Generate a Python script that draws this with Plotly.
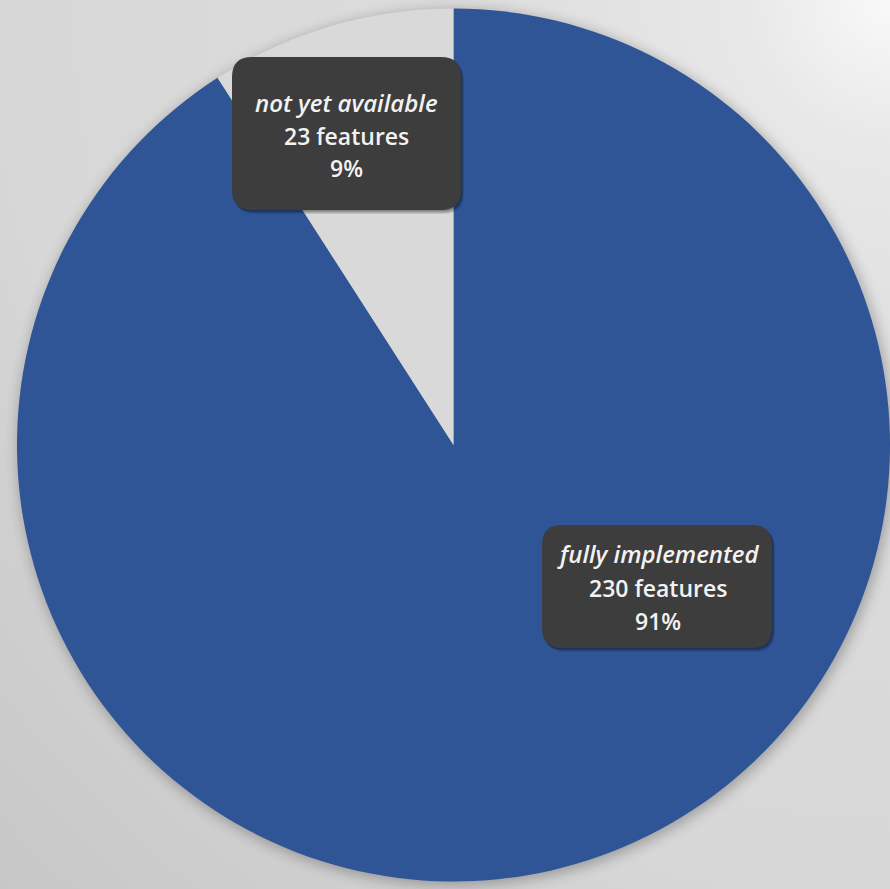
import base64
import plotly.graph_objects as go

# ---- data ----
categories = ["fully implemented", "not yet available"]
counts = [230, 23]
unit_label = "features"
slice_colors = ["#2F5597", "#D9D9D9"]

W, H = 890, 889
total = sum(counts)
percents = [round(100 * c / total) for c in counts]

# pie geometry (pixels)
dom_x = [17 / W, 1.0]
dom_y = [(H - 881.5) / H, (H - 8.5) / H]
cx = (dom_x[0] + dom_x[1]) / 2 * W
cy = H - (dom_y[0] + dom_y[1]) / 2 * H
rad = min((dom_x[1] - dom_x[0]) * W, (dom_y[1] - dom_y[0]) * H) / 2

# background: radial gradient from top-right + soft pie shadow
svg = f'''<svg xmlns="http://www.w3.org/2000/svg" width="{W}" height="{H}" viewBox="0 0 {W} {H}">
<defs>
<radialGradient id="g" gradientUnits="userSpaceOnUse" cx="{W}" cy="0" r="1780">
<stop offset="0" stop-color="#f9f9f9"/>
<stop offset="0.08" stop-color="#e8e8e8"/>
<stop offset="0.25" stop-color="#dcdcdc"/>
<stop offset="0.5" stop-color="#d7d7d7"/>
<stop offset="0.57" stop-color="#d0d0d0"/>
<stop offset="0.72" stop-color="#c6c6c6"/>
</radialGradient>
<filter id="b" x="-20%" y="-20%" width="140%" height="140%"><feGaussianBlur stdDeviation="7"/></filter>
</defs>
<rect x="0" y="0" width="{W}" height="{H}" fill="url(#g)"/>
<circle cx="{cx + 2}" cy="{cy + 3}" r="{rad + 1}" fill="#000" opacity="0.28" filter="url(#b)"/>
</svg>'''
bg_uri = "data:image/svg+xml;base64," + base64.b64encode(svg.encode()).decode()

fig = go.Figure(go.Pie(
    labels=categories,
    values=counts,
    sort=False,
    direction="clockwise",
    rotation=0,
    marker=dict(colors=slice_colors, line=dict(width=0)),
    textinfo="none",
    hoverinfo="label+value+percent",
    showlegend=False,
    domain=dict(x=dom_x, y=dom_y),
))

# label boxes (pixel boxes: left, top, right, bottom) and text centres
boxes = [(542, 525, 772, 648), (232, 57, 461, 210)]
text_x = [658, 346]
line_y = [[553, 588, 621], [103, 136, 168]]


def px(x):
    return x / W


def py(y):
    return (H - y) / H


def rounded_path(l, t, r, b, rr):
    pts = [
        (l + rr, t), (r - rr, t), ("Q", r, t, r, t + rr), (r, b - rr),
        ("Q", r, b, r - rr, b), (l + rr, b), ("Q", l, b, l, b - rr),
        (l, t + rr), ("Q", l, t, l + rr, t),
    ]
    d = f"M {px(pts[0][0])},{py(pts[0][1])}"
    for p in pts[1:]:
        if p[0] == "Q":
            d += f" Q {px(p[1])},{py(p[2])} {px(p[3])},{py(p[4])}"
        else:
            d += f" L {px(p[0])},{py(p[1])}"
    return d + " Z"


shapes = []
annotations = []
for i, (l, t, r, b) in enumerate(boxes):
    for k, op in [(5, 0.10), (3.5, 0.15), (2, 0.2)]:
        shapes.append(dict(type="path", xref="paper", yref="paper",
                           path=rounded_path(l + k * 0.6, t + k * 0.8, r + k * 0.6, b + k * 0.8, 20),
                           fillcolor=f"rgba(0,0,0,{op})", line=dict(width=0), layer="above"))
    shapes.append(dict(type="path", xref="paper", yref="paper",
                       path=rounded_path(l, t, r, b, 20),
                       fillcolor="#3d3d3d", line=dict(width=0), layer="above"))
    lines = [f"<i>{categories[i]}</i>", f"{counts[i]} {unit_label}", f"{percents[i]}%"]
    sizes = [24, 23, 23]
    for j, txt in enumerate(lines):
        annotations.append(dict(
            x=px(text_x[i]), y=py(line_y[i][j]), xref="paper", yref="paper",
            text=txt, showarrow=False, xanchor="center", yanchor="middle",
            font=dict(family="Open Sans", size=sizes[j], color="#f2f2f2", weight=600),
        ))

fig.update_layout(
    width=W, height=H,
    margin=dict(l=0, r=0, t=0, b=0),
    paper_bgcolor="#d9d9d9",
    plot_bgcolor="rgba(0,0,0,0)",
    shapes=shapes,
    annotations=annotations,
    images=[dict(source=bg_uri, xref="paper", yref="paper", x=0, y=1,
                 sizex=1, sizey=1, xanchor="left", yanchor="top",
                 sizing="stretch", layer="below")],
)

fig.write_html("out.html")
